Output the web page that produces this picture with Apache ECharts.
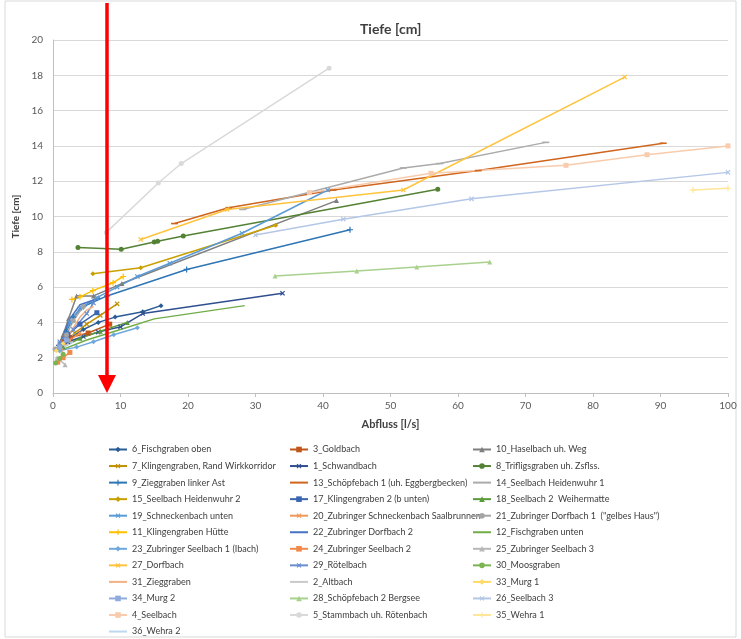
<!DOCTYPE html>
<html>
<head>
<meta charset="utf-8">
<title>Tiefe [cm]</title>
<script src="https://cdn.jsdelivr.net/npm/echarts@6/dist/echarts.min.js"></script>
<style>
  html, body { margin: 0; padding: 0; background: #fff; }
  #main { width: 741px; height: 639px; }
</style>
</head>
<body>
<div id="main"></div>
<script>
// Abfluss [l/s] -> Tiefe [cm]
var s6_fischgrabenOben = [[1.2,2.7],[2.5,3.1],[4.5,3.6],[6.7,4.0],[9.2,4.3],[13.3,4.6],[16,4.95]];
var s3_goldbach = [[1.5,2.9],[2.5,3.15],[5.2,3.4],[8.4,3.9]];
var s10_haselbach = [[0.6,2.5],[1.5,3.3],[2.3,4.2],[3.5,5.5],[6,5.5],[10.2,6.2],[42,10.9]];
var s7_klingengraben = [[3.2,3.4],[5,3.9],[7,4.4],[9.5,5.05]];
var s1_schwandbach = [[0.8,2.6],[2.2,2.9],[4.5,3.2],[6.7,3.45],[10,3.75],[13.3,4.5],[34,5.65]];
var s8_trifligsgraben = [[3.7,8.25],[10.1,8.15],[15,8.55],[15.5,8.6],[19.3,8.9],[57,11.55]];
var s9_zieggrabenLinks = [[1,2.7],[2,3.5],[3,4.3],[4.5,4.9],[8,5.5],[19.8,7.0],[44,9.25]];
var s13_schoepfebach1 = [[18,9.6],[26,10.5],[41.5,11.5],[63,12.6],[90.4,14.15]];
var s14_seelbachHw1 = [[28.1,10.4],[51.9,12.75],[57.3,13.0],[73,14.2]];
var s15_seelbachHw2 = [[5.9,6.75],[13,7.1],[33,9.5]];
var s17_klingengraben2 = [[1,2.6],[2.2,3.3],[4,3.9],[6.5,4.55]];
var s18_seelbach2 = [[1.5,2.6],[4,3.1],[7,3.5],[11,4.0]];
var s19_schneckenbach = [[1,2.8],[2.5,4.0],[4,4.8],[6.5,5.4],[9.5,6.0],[12.5,6.6],[17.3,7.35],[28,9.05],[40.7,11.5]];
var s20_zubSchneckenbach = [[1.2,2.4],[2.5,3.0],[4,3.4]];
var s21_zubDorfbach1 = [[0.3,2.5],[1,2.6],[2,3.3],[3,4.1],[4.5,4.9]];
var s11_klingengrabenHuette = [[2.8,5.3],[4,5.45],[5.9,5.8],[8.9,6.25],[10.4,6.6]];
var s22_zubDorfbach2 = [[1,2.8],[2.5,4.2],[4,5.0],[7,5.4]];
var s12_fischgrabenUnten = [[1,2.4],[5,3.0],[10,3.6],[15,4.2],[28.4,4.95]];
var s23_zubSeelbach1 = [[1,2.4],[3.5,2.6],[6,2.9],[9,3.3],[12.5,3.7]];
var s24_zubSeelbach2 = [[0.7,1.75],[1.5,2.0],[2.5,2.3]];
var s25_zubSeelbach3 = [[0.6,2.0],[1.8,1.6]];
var s27_dorfbach = [[13,8.7],[25.8,10.4],[51.9,11.5],[84.7,17.9]];
var s29_roetelbach = [[1,2.9],[3,3.6],[5,4.5],[6,5.1]];
var s30_moosgraben = [[0.4,1.7],[1,1.95],[1.5,2.2]];
var s31_zieggraben = [[1.5,2.6],[2.2,3.1],[3,3.7],[4,4.3],[5,4.7],[6,4.9]];
var s2_altbach = [[0.3,2.4],[1,2.6],[2,3.0]];
var s33_murg1 = [[0.5,2.4],[1.5,2.8]];
var s34_murg2 = [[1,2.6],[2,3.0]];
var s28_schoepfebach2 = [[32.9,6.63],[45,6.91],[53.9,7.14],[64.7,7.42]];
var s26_seelbach3 = [[30,8.95],[43,9.85],[62,11.0],[100,12.5]];
var s4_seelbach = [[38,11.35],[56,12.45],[76,12.9],[88,13.5],[100,14.0]];
var s5_stammbach = [[7.9,9.1],[15.6,11.9],[19,13.0],[40.9,18.4]];
var s35_wehra1 = [[94.8,11.5],[100,11.6]];
var s36_wehra2 = [[1,2.5],[3,2.9]];

// Legendenreihenfolge (zeilenweise, 3 Spalten)
var names = [
  '6_Fischgraben oben', '3_Goldbach', '10_Haselbach uh. Weg',
  '7_Klingengraben, Rand Wirkkorridor', '1_Schwandbach', '8_Trifligsgraben uh. Zsflss.',
  '9_Zieggraben linker Ast', '13_Schöpfebach 1 (uh. Eggbergbecken)', '14_Seelbach Heidenwuhr 1',
  '15_Seelbach Heidenwuhr 2', '17_Klingengraben 2 (b unten)', '18_Seelbach 2  Weihermatte',
  '19_Schneckenbach unten', '20_Zubringer Schneckenbach Saalbrunnen', '21_Zubringer Dorfbach 1  ("gelbes Haus")',
  '11_Klingengraben Hütte', '22_Zubringer Dorfbach 2', '12_Fischgraben unten',
  '23_Zubringer Seelbach 1 (Ibach)', '24_Zubringer Seelbach 2', '25_Zubringer Seelbach 3',
  '27_Dorfbach', '29_Rötelbach', '30_Moosgraben',
  '31_Zieggraben', '2_Altbach', '33_Murg 1',
  '34_Murg 2', '28_Schöpfebach 2 Bergsee', '26_Seelbach 3',
  '4_Seelbach', '5_Stammbach uh. Rötenbach', '35_Wehra 1',
  '36_Wehra 2'
];
var values = [
  s6_fischgrabenOben, s3_goldbach, s10_haselbach,
  s7_klingengraben, s1_schwandbach, s8_trifligsgraben,
  s9_zieggrabenLinks, s13_schoepfebach1, s14_seelbachHw1,
  s15_seelbachHw2, s17_klingengraben2, s18_seelbach2,
  s19_schneckenbach, s20_zubSchneckenbach, s21_zubDorfbach1,
  s11_klingengrabenHuette, s22_zubDorfbach2, s12_fischgrabenUnten,
  s23_zubSeelbach1, s24_zubSeelbach2, s25_zubSeelbach3,
  s27_dorfbach, s29_roetelbach, s30_moosgraben,
  s31_zieggraben, s2_altbach, s33_murg1,
  s34_murg2, s28_schoepfebach2, s26_seelbach3,
  s4_seelbach, s5_stammbach, s35_wehra1,
  s36_wehra2
];
var xTicks = [0, 10, 20, 30, 40, 50, 60, 70, 80, 90, 100];
var yTicks = [0, 2, 4, 6, 8, 10, 12, 14, 16, 18, 20];
var arrowX = 8;

// Farben + Marker (Excel-Stil)
var colors = [
  '#2B5C95', '#C0571A', '#7F7F7F',
  '#BF9000', '#2F4F8F', '#548235',
  '#2E75B6', '#D0651E', '#ABABAB',
  '#C9A000', '#3A65B0', '#5A9A3A',
  '#5B9BD5', '#F1975A', '#A5A5A5',
  '#FFC000', '#4472C4', '#70AD47',
  '#6FA8DC', '#F08A4B', '#B7B7B7',
  '#FFC33C', '#698ED0', '#7AB552',
  '#F4B183', '#C9C9C9', '#FFD966',
  '#8FAADC', '#A9D18E', '#B4C7E7',
  '#F8CBAD', '#D9D9D9', '#FFE699',
  '#BDD7EE'
];
var PLUS = 'path://M4,0H6V4H10V6H6V10H4V6H0V4H4Z';
var marks = [
  'diamond', 'rect', 'triangle',
  'x', 'x', 'circle',
  'plus', 'dash', 'dash',
  'diamond', 'rect', 'triangle',
  'x', 'x', 'circle',
  'plus', 'none', 'none',
  'diamond', 'rect', 'triangle',
  'x', 'x', 'circle',
  'none', 'none', 'diamond',
  'rect', 'triangle', 'x',
  'rect', 'circle', 'plus',
  'none'
];

function symbolOf(m) {
  if (m == 'x' || m == 'plus') return PLUS;
  if (m == 'dash') return 'rect';
  return m;
}
function sizeOf(m) {
  if (m == 'dash') return [7, 1.6];
  if (m == 'x' || m == 'plus') return 6;
  return 5;
}

var series = names.map(function (n, i) {
  var m = marks[i];
  return {
    name: n,
    type: 'line',
    data: values[i],
    color: colors[i],
    symbol: symbolOf(m),
    symbolRotate: m == 'x' ? 45 : 0,
    symbolSize: sizeOf(m),
    showAllSymbol: true,
    lineStyle: { width: 1.5 },
    emphasis: { disabled: true }
  };
});

function legendCol(col, left) {
  return {
    orient: 'vertical',
    left: left,
    top: 445,
    height: 200,
    padding: 0,
    itemWidth: 18,
    itemHeight: 7,
    itemGap: 7.55,
    textStyle: { fontFamily: 'Lato', fontSize: 9, color: '#404040' },
    data: names.filter(function (n, i) { return i % 3 == col; }).map(function (n) {
      var i = names.indexOf(n);
      var item = { name: n };
      // Reihen ohne (oder mit Strich-)Marker: nur die Linie zeigen
      if (marks[i] == 'none' || marks[i] == 'dash') item.itemStyle = { opacity: 0 };
      return item;
    })
  };
}

var chart = echarts.init(document.getElementById('main'), null, { renderer: 'canvas' });
chart.setOption({
  animation: false,
  backgroundColor: '#fff',
  title: {
    text: 'Tiefe [cm]',
    left: 355,
    top: 17,
    textStyle: { fontFamily: 'Lato', fontSize: 14, fontWeight: 'bold', color: '#404040' }
  },
  grid: { left: 53, right: 13, top: 40, bottom: 246 },
  legend: [legendCol(0, 108), legendCol(1, 289), legendCol(2, 472)],
  xAxis: {
    type: 'value',
    min: xTicks[0],
    max: xTicks[xTicks.length - 1],
    interval: xTicks[1] - xTicks[0],
    name: 'Abfluss [l/s]',
    nameLocation: 'middle',
    nameGap: 26,
    nameTextStyle: { fontFamily: 'Lato', fontSize: 11, fontWeight: 'bold', color: '#404040' },
    axisLine: { lineStyle: { color: '#BFBFBF', width: 1 } },
    axisTick: { show: true, length: 4, lineStyle: { color: '#BFBFBF' } },
    axisLabel: { fontFamily: 'Lato', fontSize: 10, color: '#595959', margin: 8 },
    splitLine: { show: false }
  },
  yAxis: {
    type: 'value',
    min: yTicks[0],
    max: yTicks[yTicks.length - 1],
    interval: yTicks[1] - yTicks[0],
    name: 'Tiefe [cm]',
    nameLocation: 'middle',
    nameGap: 31,
    nameTextStyle: { fontFamily: 'Lato', fontSize: 10, fontWeight: 'bold', color: '#404040' },
    axisLine: { show: true, lineStyle: { color: '#BFBFBF', width: 1 } },
    axisTick: { show: false },
    axisLabel: { fontFamily: 'Lato', fontSize: 10, color: '#595959', margin: 10 },
    splitLine: { lineStyle: { color: '#D9D9D9', width: 1.2 } }
  },
  series: series
});

// roter Pfeil bei Abfluss = arrowX, Position über die Achsen gerechnet
var bottomPt = chart.convertToPixel({ gridIndex: 0 }, [arrowX, 0]);
var ax = bottomPt[0], ay = bottomPt[1];
chart.setOption({
  graphic: [
    {
      type: 'rect',
      shape: { x: 5, y: 1, width: 731, height: 636 },
      style: { fill: 'none', stroke: '#D9D9D9', lineWidth: 1 },
      silent: true
    },
    {
      type: 'line',
      shape: { x1: ax, y1: 3, x2: ax, y2: ay - 16 },
      style: { stroke: '#FF0000', lineWidth: 3.5 },
      z: 100
    },
    {
      type: 'polygon',
      shape: { points: [[ax - 9, ay - 18], [ax + 9, ay - 18], [ax, ay]] },
      style: { fill: '#FF0000' },
      z: 100
    }
  ]
});
</script>
</body>
</html>
